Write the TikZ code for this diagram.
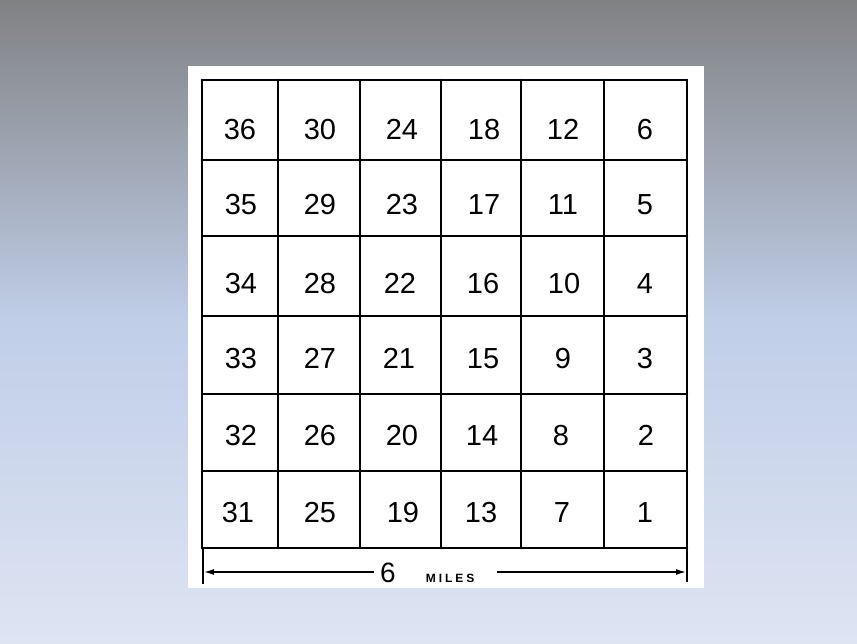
\documentclass[tikz,border=0pt]{standalone}
\usepackage{fontspec}
\setmainfont{Liberation Sans}
\usetikzlibrary{arrows.meta}
\definecolor{bgtop}{RGB}{128,129,131}
\definecolor{bgmid}{RGB}{192,206,232}
\definecolor{bgbot}{RGB}{222,228,242}
\tikzset{
  gridline/.style={line width=2.6pt, black, line cap=round},
  num/.style={font=\fontsize{29}{29}\selectfont, inner sep=0pt, anchor=base},
  dimline/.style={line width=1.4pt, -{Latex[length=10pt,width=6pt]}},
}
\begin{document}
\begin{tikzpicture}[x=1pt,y=-1pt]
\useasboundingbox (0,0) rectangle (857,643);
\shade[top color=bgtop, bottom color=bgmid] (0,0) rectangle (857,321);
\shade[top color=bgmid, bottom color=bgbot] (0,320) rectangle (857,643);
\fill[white] (188,66) rectangle (704,588);
% grid
\foreach \x in {202,278,360,441,521,604,687}
  \draw[gridline] (\x,80) -- (\x,548);
\foreach \y in {80,160,236,316,394,471,548}
  \draw[gridline] (202,\y) -- (687,\y);
% numbers (base line = centre + 10.5)
\foreach \n [count=\c from 0] in {36,30,24,18,12,6} {
  \pgfmathsetmacro{\xx}{{240,320,402,484,563,645}[\c]}
  \node[num] (n\n) at (\xx,139) {\n};
}
\foreach \n [count=\c from 0] in {35,29,23,17,11,5} {
  \pgfmathsetmacro{\xx}{{241,320,402,484,563,645}[\c]}
  \node[num] (n\n) at (\xx,214) {\n};
}
\foreach \n [count=\c from 0] in {34,28,22,16,10,4} {
  \pgfmathsetmacro{\xx}{{241,320,400,483,564,645}[\c]}
  \node[num] (n\n) at (\xx,293) {\n};
}
\foreach \n [count=\c from 0] in {33,27,21,15,9,3} {
  \pgfmathsetmacro{\xx}{{241,320,399,483,563,645}[\c]}
  \node[num] (n\n) at (\xx,368) {\n};
}
\foreach \n [count=\c from 0] in {32,26,20,14,8,2} {
  \pgfmathsetmacro{\xx}{{241,320,402,482,561,646}[\c]}
  \node[num] (n\n) at (\xx,445) {\n};
}
\foreach \n [count=\c from 0] in {31,25,19,13,7,1} {
  \pgfmathsetmacro{\xx}{{238,320,403,481,562,645}[\c]}
  \node[num] (n\n) at (\xx,522) {\n};
}
% dimension
\coordinate (tl1) at (203,548);
\coordinate (tl2) at (203,584);
\coordinate (tr1) at (687,548);
\coordinate (tr2) at (687,582);
\draw[line width=1.4pt] (tl1) -- (tl2);
\draw[line width=1.4pt] (tr1) -- (tr2);
\node[inner sep=0pt, anchor=base west] (miles) at (380,582)
  {\fontsize{28}{28}\selectfont 6\hspace{30pt}{\fontsize{12}{12}\selectfont\bfseries M\hspace{3pt}I\hspace{3pt}L\hspace{3pt}E\hspace{3pt}S}};
\coordinate (al) at (204,572);
\coordinate (ar) at (686,572);
\coordinate (ml) at ([xshift=-6pt]miles.west |- al);
\coordinate (mr) at ([xshift=22pt]miles.east |- ar);
\draw[dimline] (ml) -- (al);
\draw[dimline] (mr) -- (ar);
\end{tikzpicture}
\end{document}
